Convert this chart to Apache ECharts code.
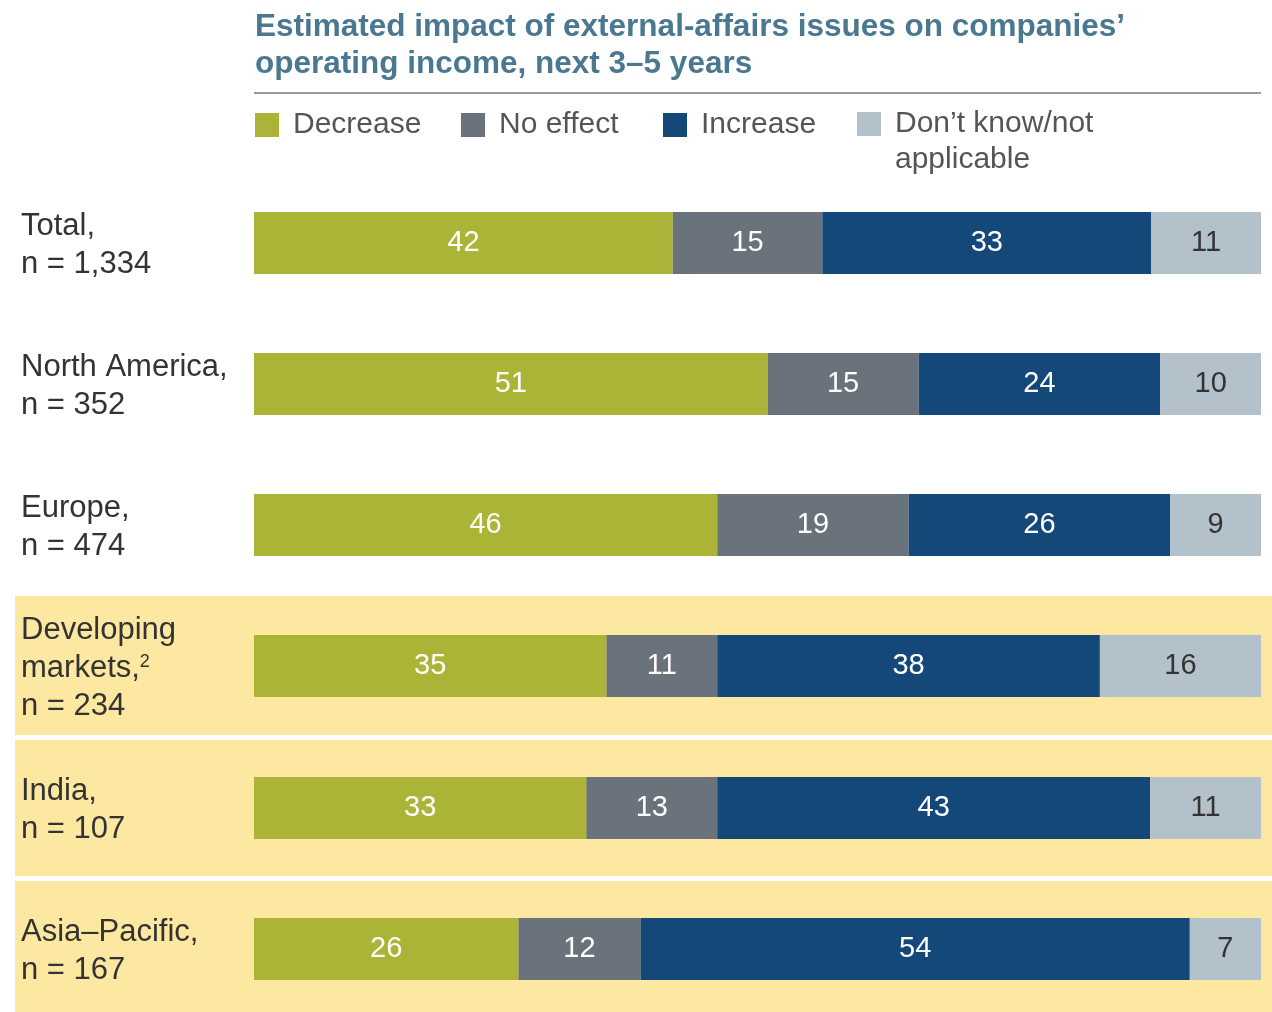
<!DOCTYPE html>
<html>
<head>
<meta charset="utf-8">
<script src="https://cdn.jsdelivr.net/npm/echarts@6/dist/echarts.min.js"></script>
<style>
  html, body { margin: 0; padding: 0; background: #ffffff; }
  #chart { width: 1272px; height: 1012px; }
</style>
</head>
<body>
<div id="chart"></div>
<script>
// Survey groups (row labels) and the share of answers per group, in %
const groups = [
  'Total,\nn = 1,334',
  'North America,\nn = 352',
  'Europe,\nn = 474',
  'Developing\nmarkets,{sup|2}\nn = 234',
  'India,\nn = 107',
  'Asia\u2013Pacific,\nn = 167'
];
const seriesNames = ['Decrease', 'No effect', 'Increase', 'Don\u2019t know/not applicable'];
const decrease = [42, 51, 46, 35, 33, 26];
const noEffect = [15, 15, 19, 11, 13, 12];
const increase = [33, 24, 26, 38, 43, 54];
const dontKnow = [11, 10, 9, 16, 11, 7];

const FONT = '"Liberation Sans", Arial, Helvetica, sans-serif';
const colors = ['#abb437', '#6a727b', '#144878', '#b3c1ca'];
const labelColors = ['#ffffff', '#ffffff', '#ffffff', '#333333'];
const valueRows = [decrease, noEffect, increase, dontKnow];

// Bar geometry
const barLeft = 254;
const barWidthPx = 1007;
const barHeight = 62;
const barTops = [212, 353, 494, 635, 777, 918];

const grids = [], xAxes = [], yAxes = [], series = [];
groups.forEach(function (g, i) {
  // each bar spans the full width, scaled to the sum of its own answers
  const total = valueRows.reduce(function (s, arr) { return s + arr[i]; }, 0);
  grids.push({ left: barLeft, top: barTops[i], width: barWidthPx, height: barHeight });
  xAxes.push({ type: 'value', gridIndex: i, min: 0, max: total, show: false });
  yAxes.push({
    type: 'category', gridIndex: i, data: [g],
    axisLine: { show: false }, axisTick: { show: false },
    axisLabel: {
      align: 'left', margin: barLeft - 21,
      fontFamily: FONT, fontSize: 31, lineHeight: 38, color: '#333333',
      padding: [4, 0, 0, 0],
      rich: { sup: { fontFamily: FONT, fontSize: 18, lineHeight: 18, verticalAlign: 'top', padding: [4, 0, 0, 0], color: '#333333' } }
    }
  });
  valueRows.forEach(function (arr, k) {
    series.push({
      type: 'bar', name: seriesNames[k], xAxisIndex: i, yAxisIndex: i,
      stack: 'row' + i, data: [arr[i]], barWidth: barHeight,
      itemStyle: { color: colors[k] },
      label: { show: true, position: 'inside', fontFamily: FONT, fontSize: 29, color: labelColors[k], padding: [4, 0, 0, 0] },
      silent: true
    });
  });
});

// Legend entries, each placed at its own spot
const legendLefts = [255, 461, 663, 857];
const legends = seriesNames.map(function (name, k) {
  const last = k === seriesNames.length - 1;
  return {
    data: [{ name: name, icon: 'rect', itemStyle: { color: colors[k] } }],
    left: legendLefts[k], top: last ? 70 : 107, padding: 0,
    itemWidth: 24, itemHeight: 24, selectedMode: false,
    // leading blank line keeps the first text line level with the swatch
    formatter: last ? function () { return '\nDon\u2019t know/not\napplicable'; } : undefined,
    textStyle: {
      fontFamily: FONT, fontSize: 30, color: '#555555', lineHeight: 36,
      padding: [0, 0, 0, 9]
    }
  };
});

const option = {
  animation: false,
  backgroundColor: '#ffffff',
  title: {
    text: 'Estimated impact of external-affairs issues on companies\u2019\noperating income, next 3\u20135 years',
    left: 250, top: 4,
    textStyle: { fontFamily: FONT, fontSize: 31.5, fontWeight: 'bold', color: '#4a7890', lineHeight: 37 }
  },
  legend: legends,
  grid: grids,
  xAxis: xAxes,
  yAxis: yAxes,
  series: series,
  graphic: [
    { type: 'line', z: 1, shape: { x1: 254, y1: 93, x2: 1261, y2: 93 }, style: { stroke: '#9a9a9a', lineWidth: 2 } },
    { type: 'rect', z: -10, shape: { x: 15, y: 596, width: 1257, height: 139 }, style: { fill: '#fce8a0' } },
    { type: 'rect', z: -10, shape: { x: 15, y: 740, width: 1257, height: 136 }, style: { fill: '#fce8a0' } },
    { type: 'rect', z: -10, shape: { x: 15, y: 881, width: 1257, height: 131 }, style: { fill: '#fce8a0' } }
  ]
};

const chart = echarts.init(document.getElementById('chart'), null, { renderer: 'canvas' });
chart.setOption(option);
</script>
</body>
</html>
